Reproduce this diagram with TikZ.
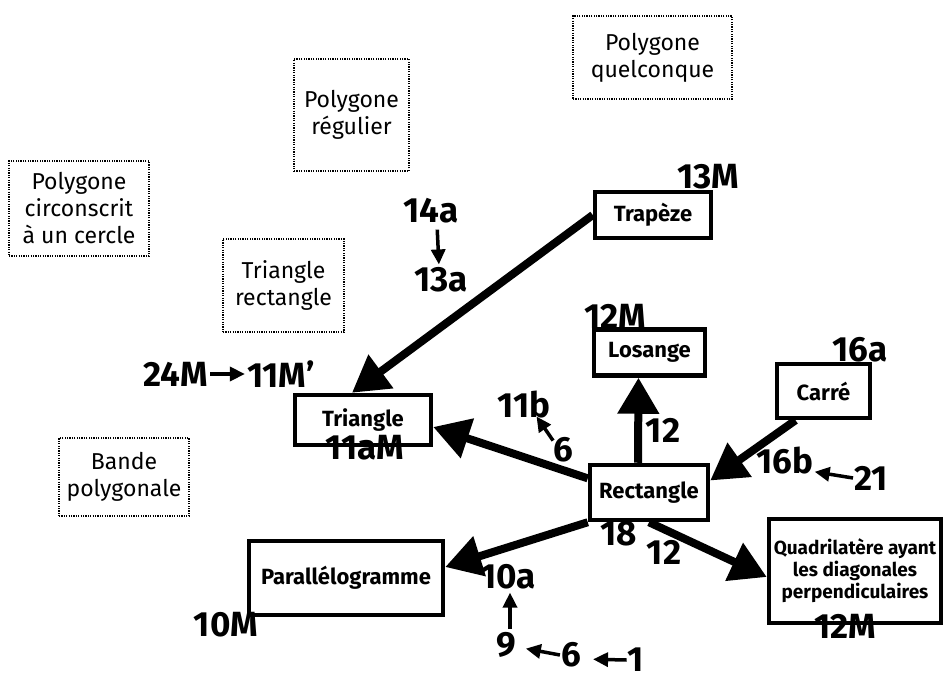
\documentclass[tikz,border=0pt]{standalone}
\usepackage{fontspec}
\setmainfont{Fira Sans}
\usetikzlibrary{arrows.meta,positioning}

\tikzset{
  solidbox/.style={draw, line width=4.5pt, inner sep=0pt, align=center,
    font=\bfseries\fontsize{22}{24}\selectfont},
  dotbox/.style={draw, line width=1.6pt, dash pattern=on 1.2pt off 1.2pt,
    inner sep=0pt, align=center, font=\fontsize{23}{27}\selectfont},
  numlabel/.style={inner sep=1pt, font=\bfseries\fontsize{35}{35}\selectfont},
  link/.style={line width=8pt, -{Triangle[length=36pt,width=40pt]}},
  hint/.style={line width=3.5pt, -{Triangle[length=15pt,width=14pt]}},
}

\begin{document}
\begin{tikzpicture}[x=1pt,y=-1pt]
    \useasboundingbox (0,0) rectangle (945,682);

    % dotted boxes
    \node[dotbox, minimum width=159, minimum height=83] (quelc) at (652.5,57.5) {Polygone\\quelconque};
    \node[dotbox, minimum width=115, minimum height=112] (regul) at (351.5,115) {Polygone\\régulier};
    \node[dotbox, minimum width=140, minimum height=95] (circ) at (79,208.5) {Polygone\\circonscrit\\à un cercle};
    \node[dotbox, minimum width=121, minimum height=93] (trirect) at (283.5,285.5) {Triangle\\rectangle};
    \node[dotbox, minimum width=130, minimum height=78] (bande) at (124,477) {Bande\\polygonale};

    % solid boxes
    \node[solidbox, minimum width=116, minimum height=46] (trap) at (653,215) {Trapèze};
    \node[solidbox, minimum width=111, minimum height=46] (los) at (649.5,352.5) {Losange};
    \node[solidbox, minimum width=93, minimum height=54] (car) at (823.5,391) {Carré};
    \node[solidbox, minimum width=136, minimum height=50] (tri) at (363,420) {Triangle};
    \node[solidbox, minimum width=118, minimum height=55] (rect) at (649,492.5) {Rectangle};
    \node[solidbox, minimum width=194, minimum height=74] (para) at (346,578) {Parallélogramme};
    \node[solidbox, minimum width=172, minimum height=104, font=\bfseries\fontsize{19}{22}\selectfont]
        (quad) at (855,571) {Quadrilatère ayant\\les diagonales\\perpendiculaires};

    % big arrows
    \draw[link] (trap.west) -- ([xshift=-11pt]tri.north);
    \draw[link] ([xshift=-11pt]rect.north) -- ([xshift=-11pt]los.south);
    \draw[link] (rect.167) -- ([yshift=-7pt]tri.east);
    \draw[link] ([xshift=-28pt]car.south) -- ([yshift=12pt]rect.east);
    \draw[link] (rect.south west) -- ([yshift=11pt]para.east);
    \draw[link] (rect.south) -- ([yshift=-6pt]quad.west);

    % numbers
    \node[numlabel] (n13M) at (708,177) {13M};
    \node[numlabel] (n14a) at (431,211) {14a};
    \node[numlabel] (n13a) at (441,280) {13a};
    \node[numlabel] (n12Mt) at (615,316) {12M};
    \node[numlabel] (n16a) at (860,350) {16a};
    \node[numlabel] (n24M) at (176,374) {24M};
    \node[numlabel] (n11M) at (281,374) {11M’};
    \node[numlabel] (n11b) at (524,405) {11b};
    \node[numlabel] (n6a) at (563,450) {6};
    \node[numlabel] (n12a) at (663,430) {12};
    \node[numlabel] (n11aM) at (365,448) {11aM};
    \node[numlabel] (n16b) at (785,461) {16b};
    \node[numlabel] (n21) at (871,478) {21};
    \node[numlabel] (n18) at (619,534) {18};
    \node[numlabel] (n12b) at (664,552) {12};
    \node[numlabel] (n10a) at (508,577) {10a};
    \node[numlabel] (n10M) at (226,625) {10M};
    \node[numlabel] (n12Mb) at (845,626) {12M};
    \node[numlabel] (n9) at (506,645) {9};
    \node[numlabel] (n6b) at (571,655) {6};
    \node[numlabel] (n1) at (636,660) {1};

    % small arrows
    \draw[hint, shorten <=5pt, shorten >=2pt] ([xshift=6pt]n14a.south) -- ([xshift=-2pt]n13a.north);
    \draw[hint, shorten <=1pt, shorten >=1pt] (n24M.east) -- (n11M.west);
    \draw[hint, shorten <=-2pt, shorten >=-4pt] (n6a.135) -- (n11b.-45);
    \draw[hint] (n21.west) -- (n16b.-20);
    \draw[hint, shorten <=2pt, shorten >=2pt] ([xshift=4pt]n9.north) -- ([xshift=2pt]n10a.south);
    \draw[hint, shorten >=9pt] (n6b.west) -- (n9.-10);
    \draw[hint, shorten >=11pt] (n1.west) -- (n6b.-20);
\end{tikzpicture}
\end{document}
